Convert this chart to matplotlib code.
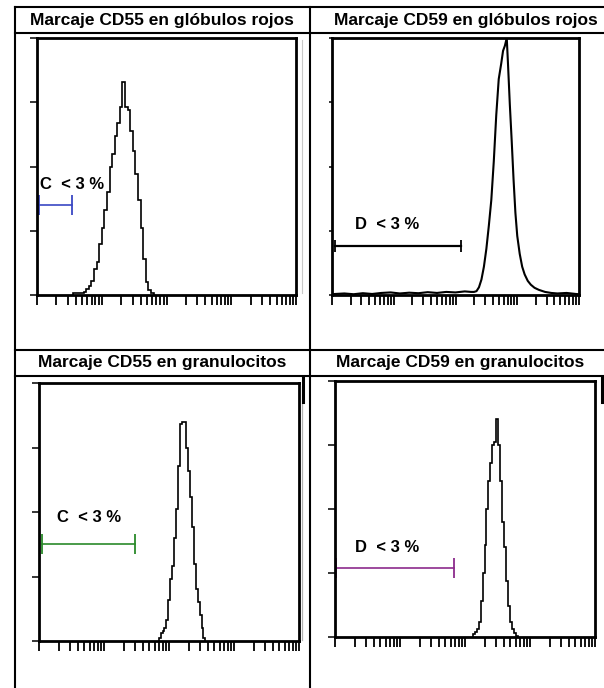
import numpy as np
import matplotlib
matplotlib.use("Agg")
import matplotlib.pyplot as plt
from matplotlib.ticker import LogLocator, NullFormatter

plt.rcParams['font.family'] = ['Liberation Sans', 'DejaVu Sans']

W, H = 604, 688

titles = ["Marcaje CD55 en glóbulos rojos", "Marcaje CD59 en glóbulos rojos",
          "Marcaje CD55 en granulocitos", "Marcaje CD59 en granulocitos"]

# step histograms: first bin edge (log10 channel), bin width (decades), heights (fraction of full scale)
cd55_rbc_start, cd55_rbc_width = 0.56, 0.04
cd55_rbc = [0.006, 0.006, 0.008, 0.008, 0.012, 0.022, 0.035, 0.055, 0.10, 0.13,
            0.20, 0.26, 0.33, 0.40, 0.50, 0.55, 0.62, 0.67, 0.73, 0.83,
            0.73, 0.72, 0.64, 0.56, 0.47, 0.37, 0.26, 0.14, 0.05, 0.02, 0.006]

cd55_gran_start, cd55_gran_width = 1.84, 0.03
cd55_gran = [0.01, 0.03, 0.04, 0.05, 0.08, 0.16, 0.24, 0.29, 0.40, 0.51,
             0.68, 0.84, 0.85, 0.85, 0.75, 0.66, 0.56, 0.44, 0.30, 0.20,
             0.15, 0.10, 0.05, 0.01]

cd59_gran_start, cd59_gran_width = 2.12, 0.03
cd59_gran = [0.01, 0.02, 0.03, 0.06, 0.14, 0.25, 0.36, 0.50, 0.61, 0.68,
             0.75, 0.76, 0.85, 0.75, 0.61, 0.45, 0.35, 0.22, 0.12, 0.06,
             0.03, 0.015, 0.005]

# fine-channel histogram drawn as a line (log10 channel, height)
cd59_rbc_x = [0.0, 0.05, 0.2, 0.35, 0.5, 0.65, 0.8, 0.95, 1.1, 1.25, 1.4, 1.55, 1.7, 1.85,
              2.0, 2.15, 2.25, 2.30, 2.34, 2.38, 2.42, 2.46, 2.50, 2.54, 2.58, 2.62, 2.66,
              2.70, 2.74, 2.77, 2.80, 2.83, 2.85, 2.88, 2.91, 2.94, 2.97, 3.00, 3.04, 3.08,
              3.12, 3.17, 3.22, 3.28, 3.35, 3.45, 3.55, 3.65, 3.8, 3.95, 4.0]
cd59_rbc_y = [0.003, 0.004, 0.006, 0.003, 0.007, 0.004, 0.008, 0.010, 0.006, 0.009, 0.007,
              0.011, 0.008, 0.012, 0.010, 0.014, 0.012, 0.012, 0.015, 0.03, 0.06, 0.11,
              0.18, 0.27, 0.37, 0.52, 0.70, 0.84, 0.90, 0.95, 0.97, 1.0, 0.90, 0.74, 0.60,
              0.45, 0.32, 0.23, 0.16, 0.11, 0.08, 0.055, 0.04, 0.028, 0.02, 0.012, 0.008,
              0.006, 0.008, 0.004, 0.003]

gate_labels = ["C  < 3 %", "D  < 3 %", "C  < 3 %", "D  < 3 %"]
gate_from = [0.03, 0.05, 0.04, 0.02]
gate_to = [0.54, 2.09, 1.48, 1.83]
gate_y = [0.35, 0.19, 0.376, 0.27]
gate_colors = ['#3a48c4', 'black', '#2a8a2a', '#8c2b8c']
label_pos = [(0.05, 0.43), (0.37, 0.276), (0.28, 0.48), (0.31, 0.35)]

# pixel layout of the table and the four plot frames
frames = [(37, 38, 296, 295), (332, 38, 579, 295), (39, 383, 299, 641), (335, 381, 595, 637)]
title_xy = [(162, 20), (466, 20), (162, 363), (460, 363)]

fig = plt.figure(figsize=(W / 100, H / 100), dpi=100)

tab = fig.add_axes([0, 0, 1, 1])
tab.set_xlim(0, W)
tab.set_ylim(H, 0)
tab.axis('off')
lw_tab = 1.5
for y in (7, 33, 350, 376):
    tab.plot([15, W], [y, y], color='black', lw=lw_tab)
for x in (15, 310):
    tab.plot([x, x], [7, H], color='black', lw=lw_tab)
# leftovers of the pasted original figures
tab.plot([301.5, 301.5], [40, 293], color='#c8c8c8', lw=0.8)
tab.plot([302, 302], [386, 640], color='#b0b0b0', lw=0.9)
tab.plot([303, 303], [378, 402], color='black', lw=2.2)
tab.plot([602, 602], [378, 402], color='black', lw=2.2)

for (tx, ty), t in zip(title_xy, titles):
    tab.text(tx, ty, t, ha='center', va='center', fontsize=12.5, fontweight='bold')

hists = [(cd55_rbc_start, cd55_rbc_width, cd55_rbc), None,
         (cd55_gran_start, cd55_gran_width, cd55_gran),
         (cd59_gran_start, cd59_gran_width, cd59_gran)]

for i, (x0, y0, x1, y1) in enumerate(frames):
    ax = fig.add_axes([x0 / W, 1 - y1 / H, (x1 - x0) / W, (y1 - y0) / H])
    ax.set_xscale('log')
    ax.set_xlim(1, 1e4)
    ax.set_ylim(0, 1)
    ax.xaxis.set_major_locator(LogLocator(base=10, numticks=10))
    ax.xaxis.set_minor_locator(LogLocator(base=10, subs=np.arange(2, 10), numticks=10))
    ax.xaxis.set_major_formatter(NullFormatter())
    ax.xaxis.set_minor_formatter(NullFormatter())
    ax.set_yticks([0, 0.25, 0.5, 0.75, 1.0])
    ax.set_yticklabels([])
    ax.tick_params(axis='x', which='both', direction='out', length=7, width=1.3)
    ax.tick_params(axis='y', direction='out', length=2 if i == 1 else 5, width=1.1)
    for sp in ax.spines.values():
        sp.set_linewidth(2.0)

    if hists[i] is not None:
        start, width, h = hists[i]
        edges = start + width * np.arange(len(h) + 1)
        ax.stairs(h, 10 ** edges, color='black', lw=1.2)
    else:
        ax.plot(10 ** np.array(cd59_rbc_x), cd59_rbc_y, color='black', lw=1.5)

    ms = 9 if i == 1 else 15
    ax.plot([10 ** gate_from[i], 10 ** gate_to[i]], [gate_y[i], gate_y[i]],
            color=gate_colors[i], lw=1.6 if i == 1 else 1.2, marker='|', ms=ms, mew=1.3,
            clip_on=False)
    lx, ly = label_pos[i]
    ax.text(10 ** lx, ly, gate_labels[i], ha='left', va='center', fontsize=12,
            fontweight='bold')

fig.savefig('out.png', dpi=100)
